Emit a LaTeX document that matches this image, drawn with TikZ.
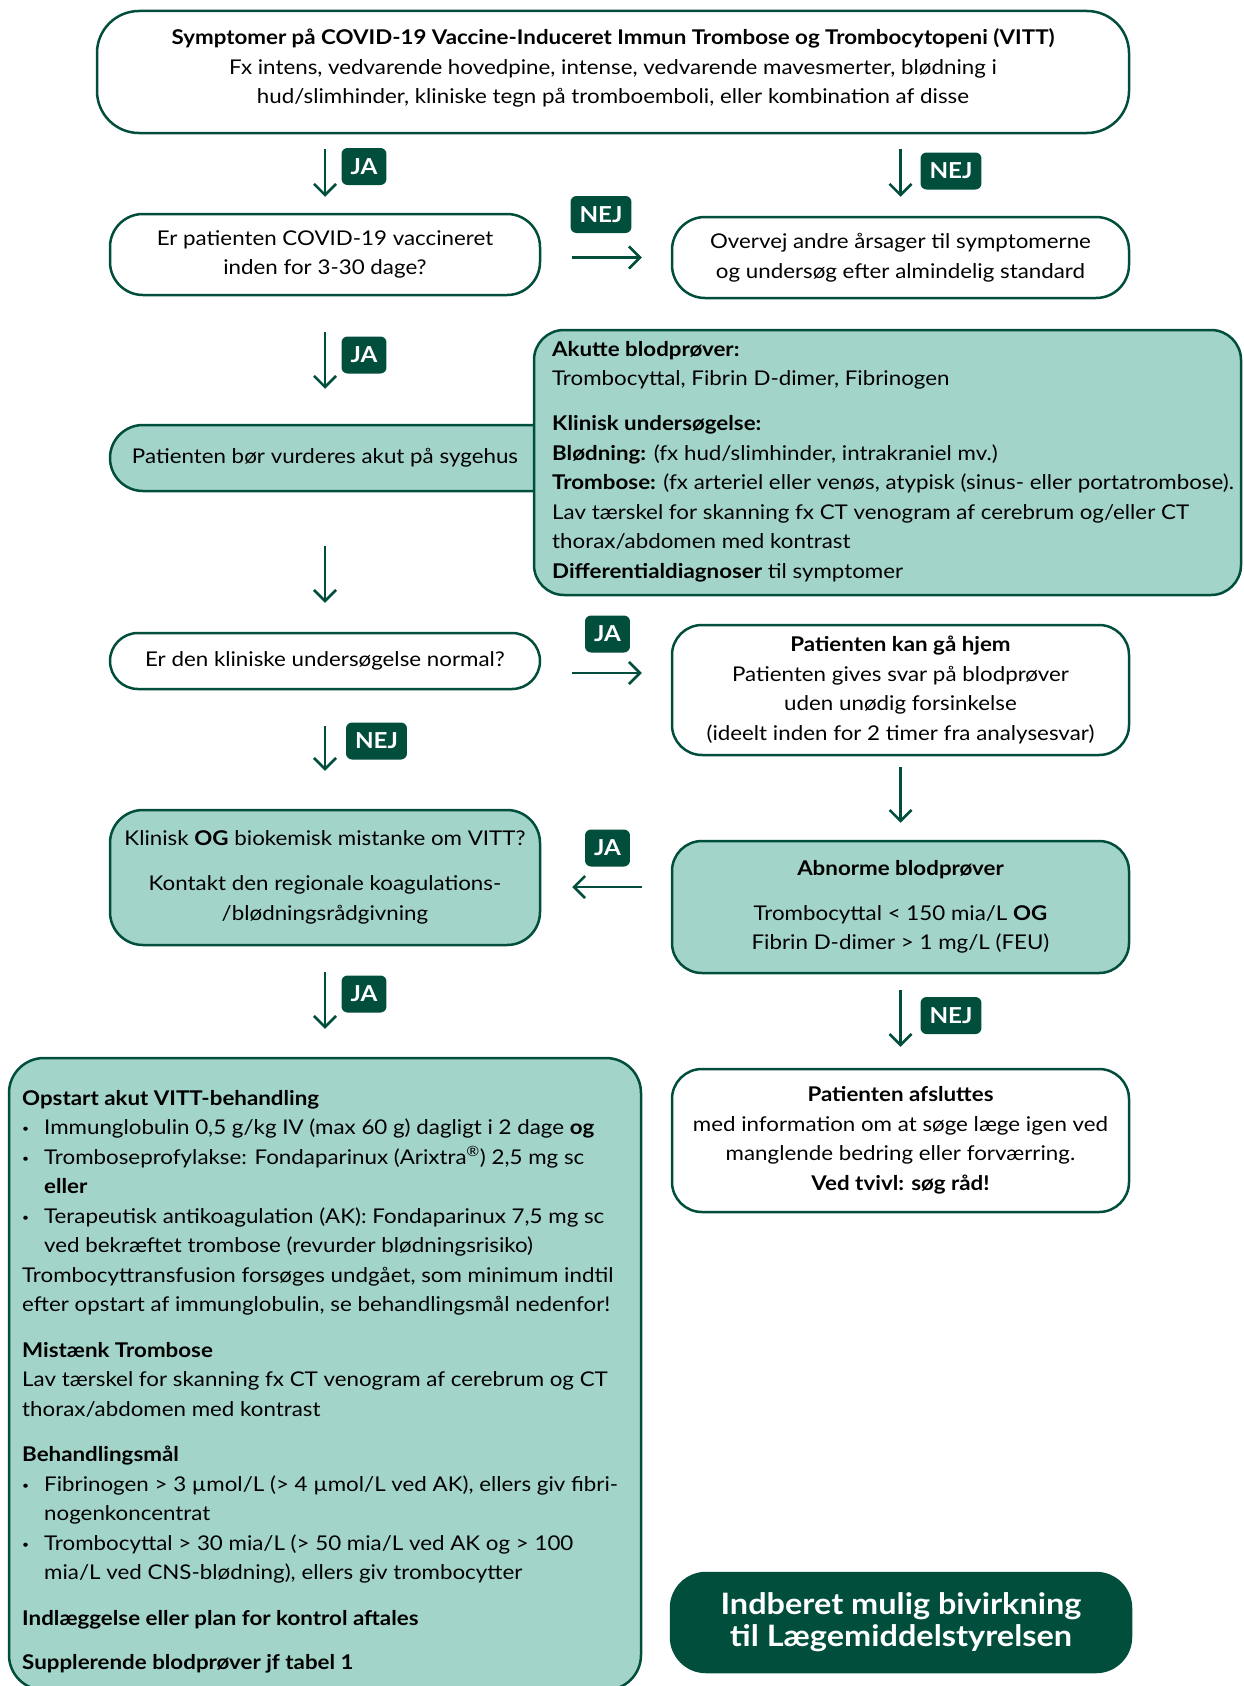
\documentclass[tikz,border=0pt]{standalone}
\usepackage{fontspec}
\setmainfont{Lato}[FakeStretch=1.1]
\usetikzlibrary{arrows.meta}
\definecolor{dkg}{RGB}{0,78,59}
\definecolor{tl}{RGB}{163,212,201}
\newcommand{\fs}{\fontsize{20.3}{29.5}\selectfont}
\newcommand{\bul}{\makebox[22pt][l]{\raisebox{2pt}{\fontsize{11}{11}\selectfont •}}}
\newcommand{\ind}{\hspace*{22pt}}
\tikzset{
  box/.style={draw=dkg, line width=2.5pt, rounded corners=33pt, fill=white, align=center, font=\fs, inner sep=0pt},
  tbox/.style={box, fill=tl},
  badge/.style={fill=dkg, rounded corners=6pt, text=white, font=\fontsize{22}{22}\selectfont\bfseries, minimum height=37pt, inner xsep=9pt, inner ysep=0pt},
  arr/.style={draw=dkg, line width=2.5pt, -{Straight Barb[length=11pt,width=22pt]}},
  txt/.style={font=\fs, align=left, inner sep=0pt, anchor=north west}
}
\begin{document}
\begin{tikzpicture}[x=1pt,y=-1pt]
\useasboundingbox (0,0) rectangle (1243,1686);
% boxes
\node[box, minimum width=1032pt, minimum height=122pt, rounded corners=42pt] (top) at (613,72) {};
\node[font=\fs, align=center, inner sep=0pt] (toptxt) at (613,68)
 {\textbf{Symptomer på COVID-19 Vaccine-Induceret Immun Trombose og Trombocytopeni (VITT)}\\
  Fx intens, vedvarende hovedpine, intense, vedvarende mavesmerter, blødning i\\
  hud/slimhinder, kliniske tegn på tromboemboli, eller kombination af disse};
\node[box, minimum width=430pt, minimum height=81pt] (vacc) at (325,254.5)
 {Er patienten COVID-19 vaccineret\\inden for 3-30 dage?};
\node[box, minimum width=457pt, minimum height=81pt] (overvej) at (900.5,257.5)
 {Overvej andre årsager til symptomerne\\og undersøg efter almindelig standard};
\node[tbox, minimum width=470pt, minimum height=66pt] (akut) at (345,458) {};
\node[font=\fs, inner sep=0pt] (akuttxt) at (325,458) {Patienten bør vurderes akut på sygehus};
\node[tbox, minimum width=707pt, minimum height=265pt, rounded corners=30pt] (blod) at (887.5,462.5) {};
\node[txt] (blodtxt) at (552,341)
 {\textbf{Akutte blodprøver:}\\
  Trombocyttal, Fibrin D-dimer, Fibrinogen\\[15.5pt]
  \textbf{Klinisk undersøgelse:}\\
  \textbf{Blødning:} (fx hud/slimhinder, intrakraniel mv.)\\
  \textbf{Trombose:} (fx arteriel eller venøs, atypisk (sinus- eller portatrombose).\\
  Lav tærskel for skanning fx CT venogram af cerebrum og/eller CT\\
  thorax/abdomen med kontrast\\
  \textbf{Differentialdiagnoser} til symptomer};
\node[box, minimum width=430pt, minimum height=56pt, rounded corners=28pt] (normal) at (325,661)
 {Er den kliniske undersøgelse normal?};
\node[box, minimum width=457pt, minimum height=130pt, rounded corners=30pt] (hjem) at (900.5,690)
 {\textbf{Patienten kan gå hjem}\\Patienten gives svar på blodprøver\\uden unødig forsinkelse\\(ideelt inden for 2 timer fra analysesvar)};
\node[tbox, minimum width=430pt, minimum height=135pt] (mistanke) at (325,877.5)
 {Klinisk \textbf{OG} biokemisk mistanke om VITT?\\[15.5pt]Kontakt den regionale koagulations-\\/blødningsrådgivning};
\node[tbox, minimum width=457pt, minimum height=132pt, rounded corners=30pt] (abnorm) at (900.5,907)
 {\textbf{Abnorme blodprøver}\\[15.5pt]Trombocyttal < 150 mia/L \textbf{OG}\\Fibrin D-dimer > 1 mg/L (FEU)};
\node[tbox, minimum width=632pt, minimum height=632pt, rounded corners=35pt] (opstart) at (325,1374) {};
\node[txt] (opstarttxt) at (22,1090)
 {\textbf{Opstart akut VITT-behandling}\\
  \bul Immunglobulin 0,5 g/kg IV (max 60 g) dagligt i 2 dage \textbf{og}\\
  \bul Tromboseprofylakse: Fondaparinux (Arixtra\textsuperscript{®}) 2,5 mg sc\\
  \ind\textbf{eller}\\
  \bul Terapeutisk antikoagulation (AK): Fondaparinux 7,5 mg sc\\
  \ind ved bekræftet trombose (revurder blødningsrisiko)\\
  Trombocyttransfusion forsøges undgået, som minimum indtil\\
  efter opstart af immunglobulin, se behandlingsmål nedenfor!\\[16pt]
  \textbf{Mistænk Trombose}\\
  Lav tærskel for skanning fx CT venogram af cerebrum og CT\\
  thorax/abdomen med kontrast\\[16pt]
  \textbf{Behandlingsmål}\\
  \bul Fibrinogen > 3 µmol/L (> 4 µmol/L ved AK), ellers giv fibri-\\
  \ind nogenkoncentrat\\
  \bul Trombocyttal > 30 mia/L (> 50 mia/L ved AK og > 100\\
  \ind mia/L ved CNS-blødning), ellers giv trombocytter\\[16pt]
  \textbf{Indlæggelse eller plan for kontrol aftales}\\[15pt]
  \textbf{Supplerende blodprøver jf tabel 1}};
\node[box, minimum width=457pt, minimum height=143pt, rounded corners=30pt] (afslut) at (900.5,1140.5)
 {\textbf{Patienten afsluttes}\\med information om at søge læge igen ved\\manglende bedring eller forværring.\\\textbf{Ved tvivl: søg råd!}};
\node[box, fill=dkg, text=white, minimum width=460pt, minimum height=99pt, rounded corners=35pt,
      font=\fontsize{29.5}{32}\selectfont\bfseries] (indberet) at (901,1622.5)
 {Indberet mulig bivirkning\\til Lægemiddelstyrelsen};
% arrows
\draw[arr, shorten <=15pt, shorten >=16pt] (top.south -| vacc.north) -- (vacc.north);
\draw[arr, shorten <=15pt, shorten >=19pt] (top.south -| overvej.north) -- (overvej.north);
\draw[arr, shorten <=31pt, shorten >=29pt] (vacc.east |- overvej.west) -- (overvej.west);
\draw[arr, shorten <=36pt, shorten >=35pt] (vacc.south) -- (vacc.south |- akut.north);
\draw[arr, shorten <=54pt, shorten >=29pt] (vacc.south |- akut.south) -- (normal.north);
\path ([yshift=-12pt]normal.east) coordinate (jaA);
\draw[arr, shorten <=31pt, shorten >=29pt] (jaA) -- (jaA -| hjem.west);
\draw[arr, shorten <=36pt, shorten >=38pt] (normal.south) -- (mistanke.north);
\draw[arr, shorten <=11pt, shorten >=17pt] (hjem.south) -- (abnorm.north);
\path ([yshift=20pt]abnorm.west) coordinate (jaB);
\draw[arr, shorten <=29pt, shorten >=31pt] (jaB) -- (jaB -| mistanke.east);
\draw[arr, shorten <=26pt, shorten >=28pt] (mistanke.south) -- (opstart.north);
\draw[arr, shorten <=16pt, shorten >=21pt] (abnorm.south) -- (afslut.north);
% badges
\node[badge] (b1) at (364,166.5) {JA};
\node[badge] (b2) at (951,171) {NEJ};
\node[badge] (b3) at (601,214.5) {NEJ};
\node[badge] (b4) at (364,355) {JA};
\node[badge] (b5) at (607.5,634) {JA};
\node[badge] (b6) at (376.5,741) {NEJ};
\node[badge] (b7) at (607.5,848) {JA};
\node[badge] (b8) at (364,994) {JA};
\node[badge] (b9) at (951,1015.5) {NEJ};
\end{tikzpicture}
\end{document}
